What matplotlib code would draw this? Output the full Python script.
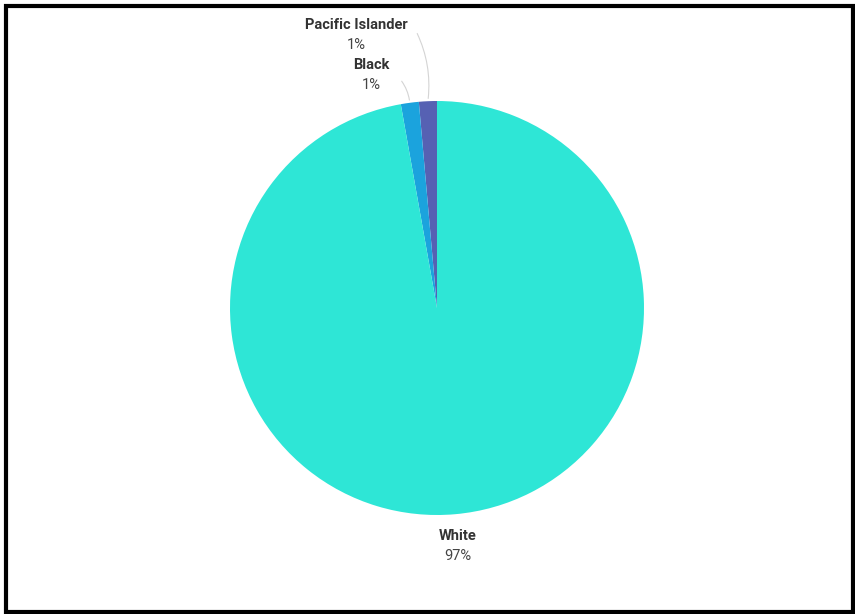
import numpy as np
import matplotlib

matplotlib.use("Agg")
import matplotlib.pyplot as plt
from matplotlib.patches import Rectangle

# ---- data ----
labels = ["Pacific Islander", "Black", "White"]
shares = [1.4, 1.4, 97.2]
shown = ["1%", "1%", "97%"]
colors = ["#5661b3", "#1ba3dd", "#2ee6d6"]

plt.rcParams["font.family"] = ["Roboto", "DejaVu Sans"]

W, H = 855, 614
fig = plt.figure(figsize=(W / 100, H / 100), dpi=100)
ax = fig.add_axes([0, 0, 1, 1])

cx, cy, r = 437, H - 308, 207
wedges, _ = ax.pie(shares, colors=colors, startangle=90, counterclock=True,
                   center=(cx, cy), radius=r, frame=True,
                   wedgeprops=dict(linewidth=0))
ax.set_xlim(0, W)
ax.set_ylim(0, H)
ax.set_aspect("equal")
ax.axis("off")

# label anchors (pixel coords from top) for each slice
label_pos = [(356, 25), (371, 65), (458, 536)]
for w, lab, pct, (lx, ly) in zip(wedges, labels, shown, label_pos):
    ax.text(lx, H - ly, lab, ha="center", va="center", fontsize=10.5,
            fontweight="bold", color="#333333")
    ax.text(lx, H - ly - 20, pct, ha="center", va="center", fontsize=10.5,
            color="#444444")
    if lab != "White":
        mid = np.deg2rad((w.theta1 + w.theta2) / 2)
        px, py = cx + r * np.cos(mid), cy + r * np.sin(mid)
        tx = lx + (29 if lab == "Black" else 60)
        ty = H - ly + (-14 if lab == "Black" else -6)
        ax.annotate("", xy=(px, py), xytext=(tx, ty),
                    arrowprops=dict(arrowstyle="-", color="#d4d4d4", lw=0.8,
                                    connectionstyle="arc3,rad=-0.15"))

fig.patches.append(Rectangle((6, 2), W - 8, H - 8, transform=None, fill=False,
                             edgecolor="black", linewidth=3))
fig.savefig("out.png", dpi=100, facecolor="white")
